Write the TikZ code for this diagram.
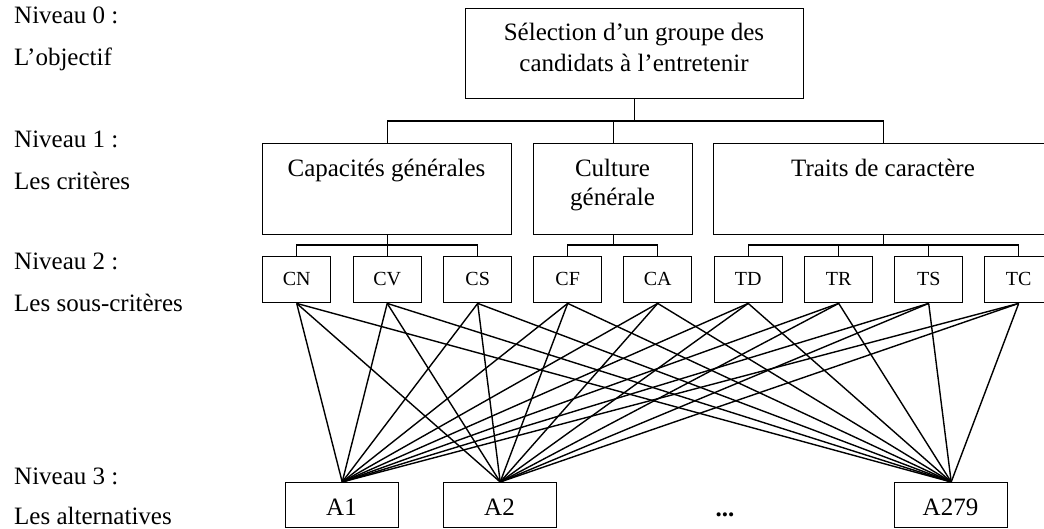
\documentclass[tikz,border=0pt]{standalone}
\usepackage{fontspec}
\setmainfont{Liberation Serif}
\begin{document}
\begin{tikzpicture}[x=1pt,y=-1pt,
  box/.style={draw,line width=1.4pt,inner sep=0pt,anchor=north west},
  txt/.style={inner sep=0pt,anchor=base,font=\fontsize{25}{29}\selectfont},
  lbl/.style={inner sep=0pt,anchor=base west,font=\fontsize{25}{29}\selectfont},
  sub/.style={box,minimum width=68pt,minimum height=46pt},
  alt/.style={box,minimum width=113pt,minimum height=45pt},
  link/.style={line width=1.4pt}]
\useasboundingbox (0,0) rectangle (1044,529);
% left labels
\node[lbl] (l0a) at (14,24) {Niveau 0 :};
\node[lbl] (l0b) at (14,66) {L’objectif};
\node[lbl] (l1a) at (14,148) {Niveau 1 :};
\node[lbl] (l1b) at (14,190) {Les critères};
\node[lbl] (l2a) at (14,270) {Niveau 2 :};
\node[lbl] (l2b) at (14,312) {Les sous-critères};
\node[lbl] (l3a) at (14,484) {Niveau 3 :};
\node[lbl] (l3b) at (14,524) {Les alternatives};
% level 0
\node[box,minimum width=338pt,minimum height=90pt] (G) at (465,8) {};
\node[txt] (gt1) at (634,41) {Sélection d’un groupe des};
\node[txt] (gt2) at (634,72) {candidats à l’entretenir};
% level 1
\node[box,minimum width=249pt,minimum height=91pt] (C1) at (262,143) {};
\node[box,minimum width=159pt,minimum height=91pt] (C2) at (533,143) {};
\node[box,minimum width=340pt,minimum height=91pt] (C3) at (713,143) {};
\node[txt] (c1t) at (386.5,177) {Capacités générales};
\node[txt] (c2t) at (612.5,177) {Culture};
\node[txt] (c2u) at (612.5,206) {générale};
\node[txt] (c3t) at (883,177) {Traits de caractère};
\foreach \c in {C1,C2,C3}
  \draw[link] (\c.north) -- ++(0,-22) -| (G.south);
% level 2
\begin{scope}[every node/.append style={font=\fontsize{20}{24}\selectfont}]
\node[sub] (CN) at (262,256) {};
\node[sub] (CV) at (352.5,256) {};
\node[sub] (CS) at (443,256) {};
\node[sub] (CF) at (533,256) {};
\node[sub] (CA) at (623,256) {};
\node[sub] (TD) at (713.5,256) {};
\node[sub] (TR) at (804,256) {};
\node[sub] (TS) at (894,256) {};
\node[sub] (TC) at (984,256) {};
\foreach \s in {CN,CV,CS,CF,CA,TD,TR,TS,TC}
  \node[inner sep=0pt,anchor=base] (\s t) at ([yshift=-6pt]\s.center) {\s};
\end{scope}
\foreach \s in {CN,CV,CS} \draw[link] (\s.north) -- ++(0,-11) -| (C1.south);
\foreach \s in {CF,CA} \draw[link] (\s.north) -- ++(0,-11) -| (C2.south);
\foreach \s in {TD,TR,TS,TC} \draw[link] (\s.north) -- ++(0,-11) -| (C3.south);
% level 3
\node[alt] (A1) at (285,482) {};
\node[alt] (A2) at (443,482) {};
\node[alt] (A279) at (894,482) {};
\node[txt] (a1t) at (341.5,515) {A1};
\node[txt] (a2t) at (499.5,515) {A2};
\node[txt] (a3t) at (950.5,515) {A279};
\node[txt] (dots) at (725,516) {\textbf{...}};
\foreach \s in {CN,CV,CS,CF,CA,TD,TR,TS,TC}
  \foreach \a in {A1,A2,A279}
    \draw[link] (\s.south) -- (\a.north);
\end{tikzpicture}
\end{document}
